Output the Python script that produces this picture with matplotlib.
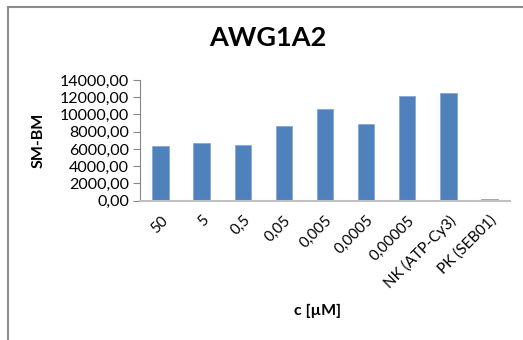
import matplotlib.pyplot as plt
from matplotlib.lines import Line2D

categories = ['50', '5', '0,5', '0,05', '0,005', '0,0005', '0,00005',
              'NK (ATP-Cy3)', 'PK (SEB01)']
values = [6320, 6650, 6420, 8630, 10600, 8860, 12150, 12530, 150]
yticks = [0, 2000, 4000, 6000, 8000, 10000, 12000, 14000]

plt.rcParams['font.family'] = ['Lato', 'DejaVu Sans']

fig = plt.figure(figsize=(5.23, 3.40), dpi=100)
ax = fig.add_axes([140 / 523, 1 - 200.7 / 340, 370 / 523, 120.7 / 340])

x = list(range(len(categories)))
ax.bar(x, values, width=0.4, color='#4F81BD', edgecolor='#86A8D5', linewidth=0.6)

ax.set_xlim(-0.5, len(categories) - 0.5)
ax.set_ylim(0, 14000)
ax.set_yticks(yticks)
ax.set_yticklabels([f'{v},00' for v in yticks], fontsize=11.5)
ax.set_xticks(x)
ax.set_xticklabels(categories, rotation=45, ha='right', va='top',
                   rotation_mode='anchor', fontsize=11)

for s in ['top', 'right']:
    ax.spines[s].set_visible(False)
ax.spines['left'].set_color('#868686')
ax.spines['bottom'].set_color('#BFBFBF')
ax.spines['bottom'].set_linewidth(1.5)
ax.tick_params(axis='y', length=5, color='#868686', pad=3)
ax.tick_params(axis='x', length=0, pad=9)

ax.set_ylabel('SM-BM', fontsize=11.5, fontweight='bold')
ax.yaxis.set_label_coords((46 - 140) / 370, 0.5)
ax.set_xlabel('c [µM]', fontsize=11.5, fontweight='bold')
ax.xaxis.set_label_coords((318 - 140) / 370, 1 - (304 - 80) / 120.7)

fig.text(268 / 523, 1 - 38 / 340, 'AWG1A2', fontsize=19.5, fontweight='bold',
         ha='center', va='center')

# chart frame (only top and left edges show in the crop)
fig.add_artist(Line2D([7.5 / 523, 7.5 / 523], [0, 1 - 6.5 / 340], color='#8C8C8C', lw=1.5))
fig.add_artist(Line2D([7.5 / 523, 1], [1 - 6.5 / 340, 1 - 6.5 / 340], color='#8C8C8C', lw=1.5))

fig.savefig('out.png', dpi=100)
